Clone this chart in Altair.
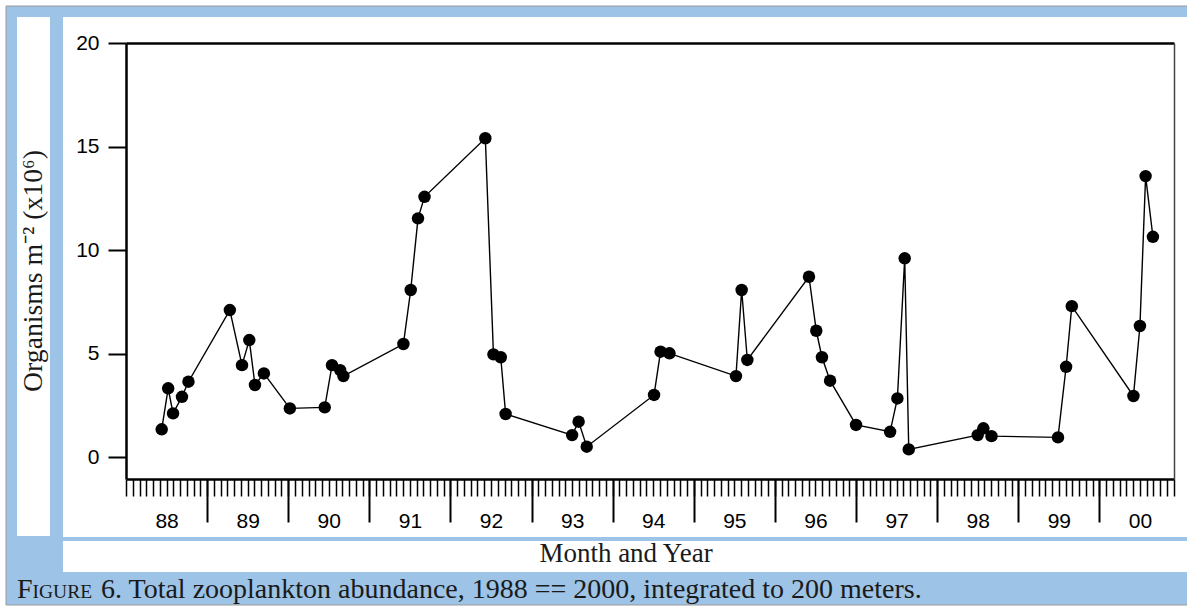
import altair as alt
import pandas as pd

# ---- data (decimal year, organisms m^-2 x 10^6) ----
years = [1988.44, 1988.52, 1988.58, 1988.69, 1988.77,
         1989.28, 1989.43, 1989.52, 1989.59, 1989.70,
         1990.02, 1990.45, 1990.54, 1990.64, 1990.68,
         1991.42, 1991.51, 1991.60, 1991.68,
         1992.43, 1992.53, 1992.62, 1992.68,
         1993.50, 1993.58, 1993.68,
         1994.51, 1994.59, 1994.70,
         1995.52, 1995.59, 1995.66,
         1996.42, 1996.51, 1996.58, 1996.68,
         1997.00, 1997.42, 1997.51, 1997.60, 1997.65,
         1998.50, 1998.57, 1998.67,
         1999.49, 1999.59, 1999.66,
         2000.42, 2000.50, 2000.57, 2000.66]
values = [1.34, 3.32, 2.11, 2.91, 3.64,
          7.10, 4.44, 5.65, 3.48, 4.04,
          2.35, 2.40, 4.44, 4.20, 3.91,
          5.46, 8.07, 11.53, 12.57,
          15.40, 4.96, 4.82, 2.08,
          1.06, 1.71, 0.50,
          3.00, 5.09, 5.01,
          3.91, 8.07, 4.69,
          8.71, 6.10, 4.82, 3.69,
          1.55, 1.22, 2.83, 9.60, 0.37,
          1.06, 1.39, 1.01,
          0.95, 4.36, 7.29,
          2.95, 6.33, 13.57, 10.64]

y_ticks = [0, 5, 10, 15, 20]
year_ticks = list(range(1989, 2001))
year_label_pos = [y + 0.5 for y in range(1988, 2001)]
minor_ticks = [round(1988 + i / 12, 4) for i in range(0, 156)]

x_title = "Month and Year"
y_title = "Organisms m\u207b\u00b2 (x10\u2076)"
cap_first = "F"
cap_small = "IGURE"
cap_rest = "6. Total zooplankton abundance, 1988 == 2000, integrated to 200 meters."

X_DOMAIN = [1988, 2000.92]
Y_DOMAIN = [-1.06, 20]

df = pd.DataFrame({"year": years, "value": values, "idx": list(range(len(years)))})
one = pd.DataFrame({"k": [0]})

BLUE = "#9DC3E6"
SERIF = "Liberation Serif"
SANS = "Liberation Sans"

xs = alt.Scale(domain=X_DOMAIN, nice=False, zero=False)
ys = alt.Scale(domain=Y_DOMAIN, nice=False, zero=False)


def box(x, x2, y, y2, fill, stroke=None):
    kw = dict(fill=fill)
    if stroke:
        kw.update(stroke=stroke, strokeWidth=1)
    return alt.Chart(one).mark_rect(**kw).encode(
        x=alt.value(x), x2=alt.value(x2), y=alt.value(y), y2=alt.value(y2))


def txt(t, x, y, size, angle=0, align="left", baseline="alphabetic"):
    return alt.Chart(one).mark_text(
        text=t, font=SERIF, fontSize=size, color="#1a1a1a",
        align=align, baseline=baseline, angle=angle).encode(
        x=alt.value(x), y=alt.value(y))


bg = box(-120, 1075, -37, 562, BLUE, stroke="#9a9a9a")
plotbox = box(-63, 1075, -26, 494, "white")
ytitlebox = box(-109, -76, -26, 493, "white")
xtitlebox = box(-63, 1075, 498, 529, "white")

ytitle = txt(y_title, -92.5, 228, 27.7, angle=270, align="center", baseline="middle")
xtitle = txt(x_title, 500, 519, 27, align="center")
cap1 = txt(cap_first, -109, 555, 28)
cap2 = txt(cap_small, -93.5, 555, 19.5)
cap3 = txt(cap_rest, -25, 555, 28)

top_axis = alt.Chart(df).mark_point(opacity=0).encode(
    x=alt.X("year:Q", scale=xs, axis=alt.Axis(
        orient="top", ticks=False, labels=False, domain=True, domainColor="black",
        domainWidth=2.5, grid=False, title=None, zindex=2)))

right_axis = alt.Chart(df).mark_point(opacity=0).encode(
    y=alt.Y("value:Q", scale=ys, axis=alt.Axis(
        orient="right", ticks=False, labels=False, domain=True, domainColor="#444444",
        domainWidth=1.5, grid=False, title=None, zindex=2)))

year_tick_axis = alt.Chart(df).mark_point(opacity=0).encode(
    x=alt.X("year:Q", scale=xs, axis=alt.Axis(
        orient="bottom", values=year_ticks, tickSize=43, tickWidth=2, tickColor="black",
        labels=False, domain=False, grid=False, title=None, zindex=2)))

label_axis = alt.Chart(df).mark_point(opacity=0).encode(
    x=alt.X("year:Q", scale=xs, axis=alt.Axis(
        orient="bottom", values=year_label_pos, ticks=False, domain=False, grid=False,
        labelExpr="substring(toString(floor(datum.value)), 2, 4)",
        labelFont=SANS, labelFontSize=21, labelColor="black", labelPadding=31,
        labelFlush=False, labelOverlap=False, title=None, zindex=2)))

line = alt.Chart(df).mark_line(color="black", strokeWidth=1.4).encode(
    x=alt.X("year:Q", scale=xs, axis=alt.Axis(
        orient="bottom", values=minor_ticks, tickSize=17, tickWidth=1.5, tickColor="black",
        labels=False, domain=True, domainColor="black", domainWidth=2.5, grid=False,
        title=None, zindex=2)),
    y=alt.Y("value:Q", scale=ys, axis=alt.Axis(
        orient="left", values=y_ticks, tickSize=18, tickWidth=2, tickColor="black",
        domain=True, domainColor="black", domainWidth=2.5, labelFont=SANS,
        labelFontSize=21, labelColor="black", labelPadding=9, grid=False,
        title=None, zindex=2)),
    order="idx:Q")

pts = alt.Chart(df).mark_circle(size=155, color="black", opacity=1).encode(
    x=alt.X("year:Q", scale=xs, axis=None),
    y=alt.Y("value:Q", scale=ys, axis=None))

chart = alt.layer(
    bg, plotbox, ytitlebox, xtitlebox, ytitle, xtitle, cap1, cap2, cap3,
    top_axis, right_axis, year_tick_axis, label_axis, line, pts
).resolve_axis(x="independent", y="independent").properties(
    width=1048, height=436,
    padding={"left": 126, "top": 43, "right": 13, "bottom": 127},
    autosize=alt.AutoSizeParams(type="none"),
    background="white",
).configure_view(stroke=None)

chart.save("out.html", embed_options={"renderer": "svg", "actions": False})
